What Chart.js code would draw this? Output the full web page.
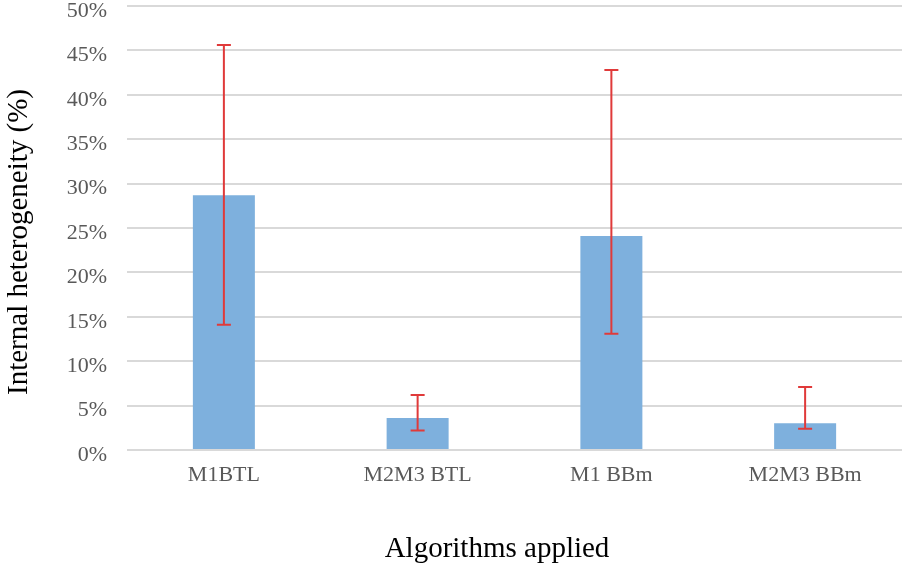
<!DOCTYPE html>
<html>
<head>
<meta charset="utf-8">
<script src="https://cdn.jsdelivr.net/npm/chart.js@4/dist/chart.umd.min.js"></script>
<style>
  html, body { margin: 0; padding: 0; background: #fff; }
  #wrap { width: 902px; height: 566px; }
</style>
</head>
<body>
<div id="wrap"><canvas id="chart"></canvas></div>
<script>
const categories = ['M1BTL', 'M2M3 BTL', 'M1 BBm', 'M2M3 BBm'];
const heterogeneity = [28.7, 3.6, 24.1, 3.0];
const errLow = [14.1, 2.2, 13.1, 2.4];
const errHigh = [45.6, 6.2, 42.8, 7.1];
const xTitle = 'Algorithms applied';
const yTitle = 'Internal heterogeneity (%)';

const serif = '"Liberation Serif", "Times New Roman", serif';

// pull the plot area up so the 50% line sits near the top edge
const plotTop = {
    id: 'plotTop',
    afterLayout(chart) {
        const y = chart.scales.y;
        y.top = 6;
        y.height = y.bottom - y.top;
        y.configure();
        chart.chartArea.top = 6;
        chart.chartArea.height = chart.chartArea.bottom - 6;
    }
};

// red error bars with caps
const errorBars = {
    id: 'errorBars',
    afterDatasetsDraw(chart) {
        const ctx = chart.ctx;
        const meta = chart.getDatasetMeta(0);
        const y = chart.scales.y;
        ctx.save();
        ctx.strokeStyle = '#e03a3a';
        ctx.lineWidth = 2;
        meta.data.forEach((bar, i) => {
            const x = bar.x;
            const top = y.getPixelForValue(errHigh[i]);
            const bot = y.getPixelForValue(errLow[i]);
            ctx.beginPath();
            ctx.moveTo(x, top);
            ctx.lineTo(x, bot);
            ctx.moveTo(x - 7, top);
            ctx.lineTo(x + 7, top);
            ctx.moveTo(x - 7, bot);
            ctx.lineTo(x + 7, bot);
            ctx.stroke();
        });
        ctx.restore();
    }
};

// axis titles, placed like the original figure
const axisTitles = {
    id: 'axisTitles',
    afterDraw(chart) {
        const ctx = chart.ctx;
        ctx.save();
        ctx.fillStyle = '#000';
        ctx.font = '29px ' + serif;
        ctx.textAlign = 'center';
        ctx.textBaseline = 'middle';
        ctx.fillText(xTitle, 497, 549);
        ctx.translate(19, 242);
        ctx.rotate(-Math.PI / 2);
        ctx.fillText(yTitle, 0, 0);
        ctx.restore();
    }
};

const ctx = document.getElementById('chart').getContext('2d');
const chart = new Chart(ctx, {
    type: 'bar',
    data: {
        labels: categories,
        datasets: [{
            data: heterogeneity,
            backgroundColor: '#7eb0dd',
            barPercentage: 0.32,
            categoryPercentage: 1
        }]
    },
    options: {
        responsive: true,
        maintainAspectRatio: false,
        animation: false,
        layout: { padding: 0 },
        plugins: {
            legend: { display: false },
            tooltip: { enabled: false }
        },
        scales: {
            x: {
                grid: { display: false, drawTicks: false },
                border: { display: false },
                ticks: {
                    color: '#595959',
                    font: { family: serif, size: 22 },
                    padding: 12
                },
                afterFit(scale) { scale.height = 116; }
            },
            y: {
                min: 0,
                max: 50,
                grid: { color: '#d9d9d9', lineWidth: 2, drawTicks: false },
                border: { display: false },
                ticks: {
                    stepSize: 5,
                    color: '#595959',
                    font: { family: serif, size: 22 },
                    padding: 20,
                    labelOffset: 5,
                    callback: v => v + '%'
                },
                afterFit(scale) { scale.width = 127; }
            }
        }
    },
    plugins: [plotTop, errorBars, axisTitles]
});
</script>
</body>
</html>
